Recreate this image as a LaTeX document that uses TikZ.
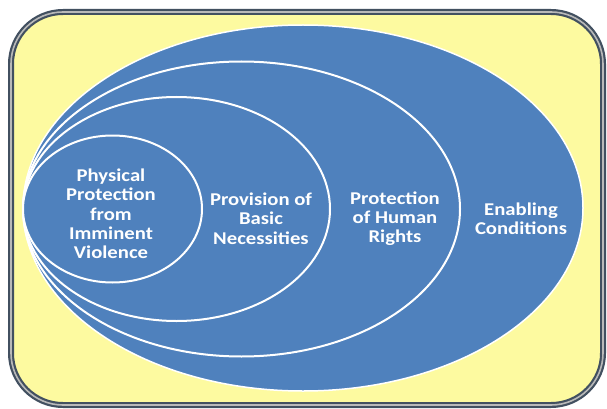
\documentclass[tikz,border=0pt]{standalone}
\usepackage{fontspec}
\setmainfont{Carlito}[FakeStretch=1.15]
\usetikzlibrary{shapes.geometric, positioning}
\definecolor{ringblue}{RGB}{79,129,189}
\definecolor{paleyellow}{RGB}{253,250,160}
\definecolor{frameslate}{RGB}{66,80,96}
\tikzstyle{frame} = [rectangle, rounded corners=52pt, draw=frameslate, line width=2.2pt, double=gray!55, double distance=1.6pt, fill=paleyellow, inner sep=0pt]
\tikzstyle{ring} = [ellipse, draw=white, line width=2pt, fill=ringblue, inner sep=0pt]
\tikzstyle{label} = [text=white, align=center, font=\bfseries\fontsize{18}{19.3}\selectfont]

\begin{document}
\begin{tikzpicture}[x=1pt, y=-1pt]

	\useasboundingbox (0,0) rectangle (607,409);

		% Background frame
		\node (frame) at (307,208.5) [frame, minimum width=592pt, minimum height=393pt] {};

		% Nested rings, outermost first
		\node (enabling) at (303,208) [ring, line width=1.5pt, minimum width=560pt, minimum height=366pt] {};
		\node (rights) at (241.5,209) [ring, minimum width=437pt, minimum height=295pt] {};
		\node (basic) at (176.5,209) [ring, minimum width=307pt, minimum height=224pt] {};
		\node (physical) at (112.5,209) [ring, minimum width=179pt, minimum height=147pt] {};

		% Ring labels
		\node (physical_text) at (111,214) [label] {Physical\\Protection\\from\\Imminent\\Violence};
		\node (basic_text) at (261,218.5) [label] {Provision of\\Basic\\Necessities};
		\node (rights_text) at (395,218.5) [label] {Protection\\of Human\\Rights};
		\node (enabling_text) at (521,219) [label] {Enabling\\Conditions};

\end{tikzpicture}
\end{document}
